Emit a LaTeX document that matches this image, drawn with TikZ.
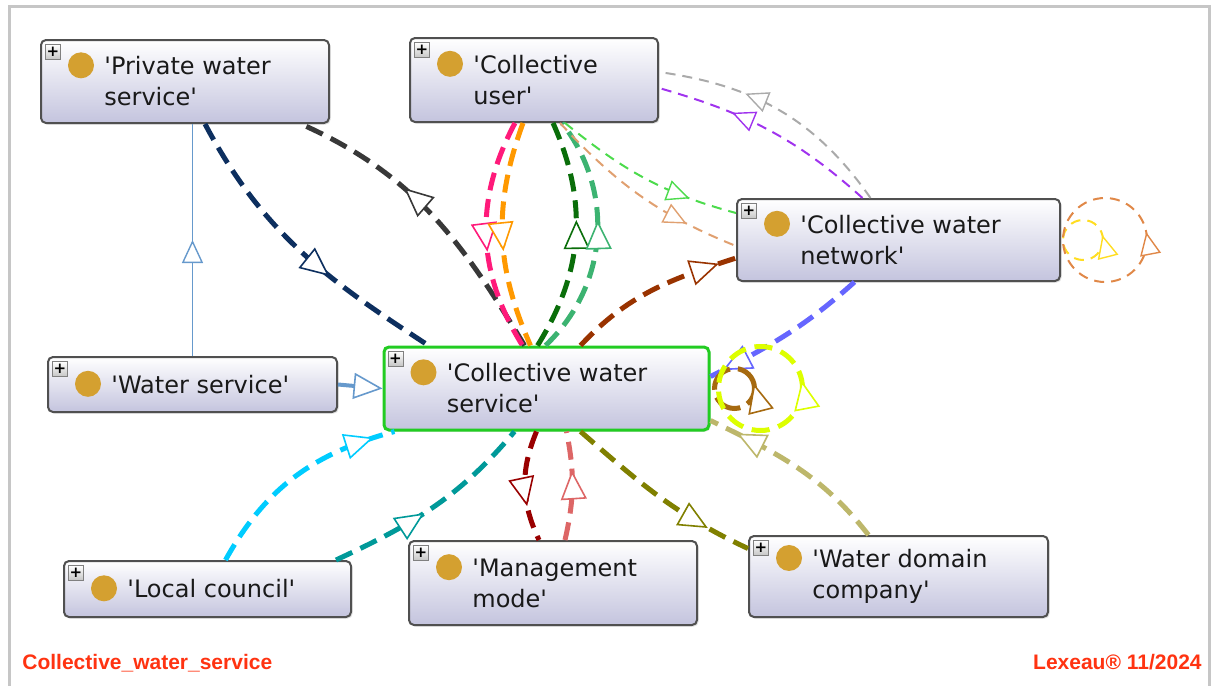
\documentclass[tikz,border=0pt]{standalone}
\usepackage{fontspec}
\setmainfont{DejaVu Sans}[Ligatures=TeXOff]
\newfontfamily\footfont{Liberation Sans}
\usetikzlibrary{arrows.meta,decorations.markings,shadows}
\definecolor{ogfill}{HTML}{C4C4DE}
\definecolor{ogline}{HTML}{505050}
\definecolor{ogsel}{HTML}{22CC22}
\definecolor{oggold}{HTML}{D4A030}
\definecolor{ogred}{HTML}{FF3311}
\definecolor{cnavy}{HTML}{0D2F5F}
\definecolor{cdark}{HTML}{383838}
\definecolor{cpink}{HTML}{FF1A7A}
\definecolor{corange}{HTML}{FF9900}
\definecolor{cdkgreen}{HTML}{0A6E0A}
\definecolor{cmdgreen}{HTML}{3CB371}
\definecolor{cltgreen}{HTML}{4CDB4C}
\definecolor{ctan}{HTML}{E0A070}
\definecolor{cltgray}{HTML}{AAAAAA}
\definecolor{cpurple}{HTML}{A033EE}
\definecolor{cbrown}{HTML}{993300}
\definecolor{cblue}{HTML}{6666FF}
\definecolor{cbrloop}{HTML}{A66A10}
\definecolor{cygreen}{HTML}{DDFF00}
\definecolor{cyellow}{HTML}{FFDD22}
\definecolor{corloop}{HTML}{E08848}
\definecolor{ccyan}{HTML}{00CCFF}
\definecolor{cteal}{HTML}{009999}
\definecolor{cdkred}{HTML}{990000}
\definecolor{crose}{HTML}{DD6666}
\definecolor{colive}{HTML}{808000}
\definecolor{ckhaki}{HTML}{BDB76B}
\definecolor{csteel}{HTML}{6699CC}

% one class box: [extra style]{name}{position}{width}{height}{text}
\newcommand{\ogclass}[6][]{%
  \node[ogbox,#1,minimum width=#4,minimum height=#5] (#2) at #3 {};
  \node[ogplus] (#2-plus) at ([xshift=6.5pt,yshift=-6.5pt]#2.north west) {+};
  \node[ogtxt] (#2-txt) at ([xshift=32pt]#2.west) {#6};
  \fill[oggold] ([xshift=-11.5pt,yshift=-4.5pt]#2-txt.north west) circle[radius=6.5pt];
}

\begin{document}
\begin{tikzpicture}[x=0.5pt,y=0.5pt,
  ogbox/.style={draw=ogline,line width=1pt,rounded corners=2.5pt,top color=white,bottom color=ogfill,
    drop shadow={opacity=0.25,shadow xshift=0.8pt,shadow yshift=-0.8pt}},
  ogplus/.style={draw=gray,line width=0.4pt,top color=white,bottom color=gray!45,minimum size=7.5pt,
    inner sep=0pt,font=\fontsize{7.5}{7.5}\selectfont\bfseries},
  ogtxt/.style={anchor=west,inner sep=0pt,align=left,text=black!90,font=\fontsize{12}{15.5}\selectfont},
  footer/.style={inner sep=0pt,text=ogred,font=\footfont\fontsize{10.5}{12}\selectfont\bfseries},
  bigtri/.tip={Triangle[length=14.5pt,width=13pt,fill=white,line width=0.8pt]},
  smalltri/.tip={Triangle[length=11.5pt,width=10.5pt,fill=white,line width=0.7pt]},
  thk/.style={line width=2.5pt,dash pattern=on 9pt off 4.5pt},
  thn/.style={line width=1pt,dash pattern=on 5pt off 3.5pt},
  arr/.style={postaction={decorate,decoration={markings,mark=at position #1 with {\arrow{bigtri}}}}},
  sarr/.style={postaction={decorate,decoration={markings,mark=at position #1 with {\arrow{smalltri}}}}}]
  \useasboundingbox (0,0) rectangle (1214,-685);
  \draw[gray!45,line width=1.5pt] (9,-700) |- (1209.5,-6.5) -- (1209.5,-700);

  % classes
  \ogclass{pws}{(185,-81.5)}{144pt}{41.5pt}{'Private water\\service'}
  \ogclass{cu}{(534,-80)}{124pt}{42pt}{'Collective\\user'}
  \ogclass{cwn}{(898.5,-240)}{161.5pt}{41pt}{'Collective water\\network'}
  \ogclass{ws}{(192.5,-384.5)}{144.5pt}{27.5pt}{'Water service'}
  \ogclass[draw=ogsel,line width=1.5pt]{cws}{(546.5,-388.5)}{162.5pt}{41.5pt}{'Collective water\\service'}
  \ogclass{lc}{(207.5,-589)}{143.5pt}{28pt}{'Local council'}
  \ogclass{mm}{(553,-583)}{144pt}{42pt}{'Management\\mode'}
  \ogclass{wdc}{(898.5,-576.5)}{149.5pt}{40.5pt}{'Water domain\\company'}

  % links
  \draw[csteel,line width=0.7pt,sarr=0.5] (ws.north) -- (ws.north |- pws.south);
  \draw[csteel,line width=2pt,-{bigtri}] (ws.east) -- (cws.west);
  \draw[cnavy,thk,arr=0.62] ([xshift=10pt]pws.south) to[out=-62,in=147] ([xshift=23pt]cws.north west);
  \draw[cdark,thk,arr=0.62] ([xshift=-11pt]cws.north) to[out=121,in=-24] ([xshift=-14.5pt]pws.south east);
  \draw[cpink,thk,arr=0.57] ([xshift=-9.5pt]cu.south) to[bend right=30] ([xshift=-12pt]cws.north);
  \draw[corange,thk,arr=0.57] ([xshift=-5.5pt]cu.south) to[bend right=22] ([xshift=-8pt]cws.north);
  \draw[cdkgreen,thk,arr=0.57] ([xshift=-4.5pt]cws.north) to[bend right=28] ([xshift=9.5pt]cu.south);
  \draw[cmdgreen,thk,arr=0.57] ([xshift=-0.5pt]cws.north) to[bend right=42] ([xshift=14pt]cu.south);
  \draw[cltgreen,thn,sarr=0.75] ([xshift=15.5pt]cu.south) to[out=-39,in=165] ([yshift=13.5pt]cwn.west);
  \draw[ctan,thn,sarr=0.75] ([xshift=13pt]cu.south) to[out=-47,in=158] ([yshift=-3pt]cwn.west);
  \draw[cltgray,thn,sarr=0.65] ([xshift=-14pt]cwn.north) to[out=125,in=-8] ([yshift=4pt]cu.east);
  \draw[cpurple,thn,sarr=0.67] ([xshift=-18pt]cwn.north) to[out=138,in=-16] ([yshift=-4pt]cu.east);
  \draw[cbrown,thk,arr=0.9] ([xshift=17pt]cws.north) to[out=47,in=198] ([yshift=-9pt]cwn.west);
  \draw[cblue,thk,arr=0.92] ([xshift=-22pt]cwn.south) to[out=222,in=27] ([yshift=6pt]cws.east);
  \draw[cbrloop,line width=2.5pt,dash pattern=on 14pt off 4pt,arr=0.04] ([xshift=12pt]cws.east) circle[radius=10pt];
  \draw[cygreen,thk,arr=0.03] ([xshift=25pt]cws.east) circle[radius=21pt];
  \draw[cyellow,thn,sarr=0.04] ([xshift=11pt]cwn.east) circle[radius=10pt];
  \draw[corloop,thn,sarr=0.03] ([xshift=22pt]cwn.east) circle[radius=21pt];
  \draw[ccyan,thk,arr=0.9] ([xshift=9pt]lc.north) to[out=61,in=195] ([xshift=6pt]cws.south west);
  \draw[cteal,thk,arr=0.45] ([xshift=-8pt]lc.north east) to[out=25,in=230] ([xshift=-16pt]cws.south);
  \draw[cdkred,thk,arr=0.68] ([xshift=-5pt]cws.south) to[bend right=24] ([xshift=-7pt]mm.north);
  \draw[crose,thk,arr=0.64] ([xshift=6pt]mm.north) to[bend right=12] ([xshift=10pt]cws.south);
  \draw[colive,thk,arr=0.78] ([xshift=17pt]cws.south) to[out=-41,in=155] ([yshift=14pt]wdc.west);
  \draw[ckhaki,thk,arr=0.85] ([xshift=-15pt]wdc.north) to[out=128,in=-26] ([yshift=-16pt]cws.east);

  % footer
  \node[footer,anchor=base west] (diagname) at (22,-669) {Collective\_water\_service};
  \node[footer,anchor=base east] (brand) at (1202,-669) {Lexeau® 11/2024};
\end{tikzpicture}
\end{document}
